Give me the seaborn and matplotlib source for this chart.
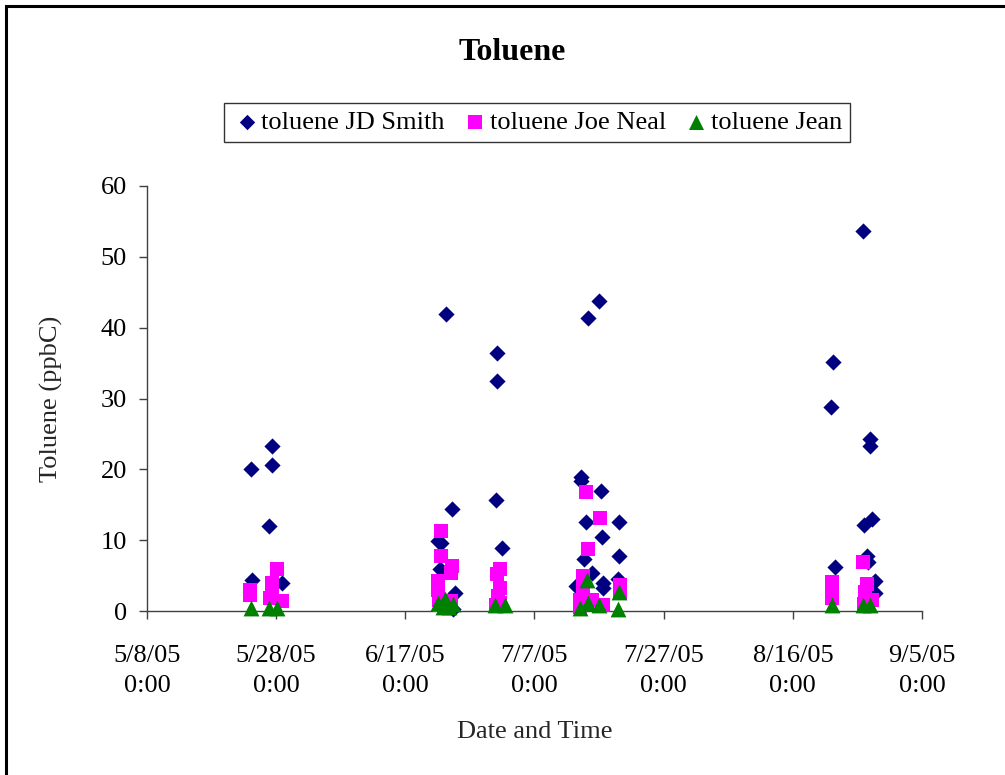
import matplotlib
matplotlib.use("Agg")
import matplotlib.pyplot as plt
import matplotlib.patches as mpatches
import pandas as pd
import seaborn as sns

# ---- measurement data -------------------------------------------------------
smith_times = [
    "2005-05-24 04:00", "2005-05-27 07:00", "2005-05-27 07:00", "2005-05-26 22:00",
    "2005-05-24 05:00", "2005-05-28 22:00",
    "2005-06-23 07:00", "2005-06-24 07:00", "2005-06-22 00:00", "2005-06-22 14:00",
    "2005-06-22 10:00", "2005-06-24 17:00", "2005-06-24 10:00",
    "2005-07-01 05:00", "2005-07-01 05:00", "2005-07-01 00:00", "2005-07-02 00:00",
    "2005-07-17 00:00", "2005-07-15 05:00", "2005-07-14 05:00", "2005-07-14 05:00",
    "2005-07-17 07:00", "2005-07-14 22:00", "2005-07-20 02:00", "2005-07-17 12:00",
    "2005-07-20 02:00", "2005-07-14 17:00", "2005-07-15 22:00", "2005-07-13 12:00",
    "2005-07-17 16:00", "2005-07-17 16:00", "2005-07-20 00:00",
    "2005-08-26 22:00", "2005-08-22 05:00", "2005-08-21 22:00", "2005-08-28 00:00",
    "2005-08-28 00:00", "2005-08-28 05:00", "2005-08-27 00:00", "2005-08-27 12:00",
    "2005-08-27 14:00", "2005-08-22 14:00", "2005-08-28 19:00", "2005-08-28 17:00",
]
smith_ppbc = [
    20.1, 23.3, 20.6, 12.0, 4.4, 3.9,
    41.9, 14.4, 9.9, 9.6, 6.0, 2.6, 0.3,
    36.4, 32.5, 15.7, 8.9,
    43.8, 41.3, 18.9, 18.3, 17.0, 12.5, 12.6, 10.4, 7.8, 7.3, 5.3, 3.6, 3.9, 3.2, 4.5,
    53.7, 35.2, 28.8, 24.3, 23.3, 13.0, 12.2, 7.8, 6.9, 6.2, 4.3, 2.6,
]

neal_times = [
    "2005-05-24 00:00", "2005-05-24 00:00", "2005-05-28 02:00", "2005-05-27 07:00",
    "2005-05-27 00:00", "2005-05-28 22:00", "2005-05-27 07:00",
    "2005-06-22 14:00", "2005-06-22 14:00", "2005-06-24 05:00", "2005-06-24 02:00",
    "2005-06-22 02:00", "2005-06-22 02:00", "2005-06-22 05:00", "2005-06-24 00:00",
    "2005-06-22 10:00",
    "2005-07-01 17:00", "2005-07-01 04:00", "2005-07-01 17:00", "2005-07-01 10:00",
    "2005-07-01 17:00", "2005-07-01 00:00",
    "2005-07-14 22:00", "2005-07-17 02:00", "2005-07-15 05:00", "2005-07-14 13:00",
    "2005-07-14 13:00", "2005-07-20 05:00", "2005-07-20 05:00", "2005-07-14 01:00",
    "2005-07-15 22:00", "2005-07-17 14:00", "2005-07-14 01:00",
    "2005-08-26 22:00", "2005-08-22 02:00", "2005-08-22 00:00", "2005-08-22 00:00",
    "2005-08-27 10:00", "2005-08-27 05:00", "2005-08-28 05:00", "2005-08-27 00:00",
]
neal_ppbc = [
    3.0, 2.2, 6.0, 3.9, 1.8, 1.4, 2.8,
    11.3, 7.7, 6.3, 5.3, 4.3, 3.0, 1.5, 1.4, 0.8,
    5.9, 5.2, 3.2, 2.1, 1.1, 0.8,
    16.8, 13.2, 8.7, 5.0, 3.5, 3.7, 2.5, 1.5, 1.6, 0.8, 0.6,
    6.9, 4.1, 2.4, 1.8, 3.8, 2.7, 1.5, 1.0,
]

jean_times = [
    "2005-05-24 01:00", "2005-05-26 22:00", "2005-05-28 02:00",
    "2005-06-22 02:00", "2005-06-23 02:00", "2005-06-24 10:00", "2005-06-22 20:00",
    "2005-06-23 20:00",
    "2005-06-30 22:00", "2005-07-02 10:00",
    "2005-07-15 02:00", "2005-07-20 02:00", "2005-07-14 01:00", "2005-07-15 07:00",
    "2005-07-17 00:00", "2005-07-20 00:00",
    "2005-08-22 00:00", "2005-08-26 22:00", "2005-08-28 00:00",
]
jean_ppbc = [
    0.4, 0.4, 0.4,
    1.2, 1.7, 1.0, 0.6, 0.5,
    0.8, 0.8,
    4.4, 2.7, 0.4, 1.1, 0.8, 0.3,
    0.8, 0.8, 0.8,
]

series_names = ["toluene JD Smith", "toluene Joe Neal", "toluene Jean"]
tick_dates = ["2005-05-08", "2005-05-28", "2005-06-17", "2005-07-07",
              "2005-07-27", "2005-08-16", "2005-09-05"]
tick_labels = ["5/8/05\n0:00", "5/28/05\n0:00", "6/17/05\n0:00", "7/7/05\n0:00",
               "7/27/05\n0:00", "8/16/05\n0:00", "9/5/05\n0:00"]
y_ticks = [0, 10, 20, 30, 40, 50, 60]

# ---- styling ----------------------------------------------------------------
sns.set_theme(style="white")
plt.rcParams["font.family"] = ["Liberation Serif", "DejaVu Serif"]
plt.rcParams["text.color"] = "black"
FS = 19
AX_COLOR = "#404040"

fig = plt.figure(figsize=(10.05, 7.75), dpi=100)
ax = fig.add_axes([147 / 1005, 1 - 611 / 775, (922 - 147) / 1005, (611 - 186) / 775])

frames = [
    pd.DataFrame({"time": pd.to_datetime(smith_times), "ppbC": smith_ppbc}),
    pd.DataFrame({"time": pd.to_datetime(neal_times), "ppbC": neal_ppbc}),
    pd.DataFrame({"time": pd.to_datetime(jean_times), "ppbC": jean_ppbc}),
]
markers = ["D", "s", "^"]
colors = ["#000080", "#FF00FF", "#008000"]
sizes = [68, 115, 130]

for df, name, m, c, s in zip(frames, series_names, markers, colors, sizes):
    sns.scatterplot(data=df, x="time", y="ppbC", marker=m, color=c, s=s,
                    linewidth=0, ax=ax, label=name, clip_on=False, zorder=3)

ax.set_xlim(pd.Timestamp(tick_dates[0]), pd.Timestamp(tick_dates[-1]))
ax.set_ylim(0, 60)
ax.set_xticks(pd.to_datetime(tick_dates))
ax.set_xticklabels(tick_labels, fontsize=FS, linespacing=1.45)
ax.set_yticks(y_ticks)
ax.set_yticklabels([str(v) for v in y_ticks], fontsize=FS)

for side in ["top", "right"]:
    ax.spines[side].set_visible(False)
for side in ["left", "bottom"]:
    ax.spines[side].set_color(AX_COLOR)
    ax.spines[side].set_linewidth(1.0)
ax.tick_params(axis="both", direction="out", length=5.5, width=1.0, color=AX_COLOR,
               labelcolor="black")
ax.tick_params(axis="x", pad=19, bottom=True)
ax.tick_params(axis="y", pad=9, left=True)

ax.set_xlabel("Date and Time", fontsize=FS)
ax.xaxis.set_label_coords(0.5, -(732 - 611) / 425, transform=ax.transAxes)
ax.xaxis.label.set_va("center")
ax.set_ylabel("Toluene (ppbC)", fontsize=FS)
ax.yaxis.set_label_coords(-(147 - 51) / 775, 0.5)
ax.yaxis.label.set_va("center")

ax.get_legend().remove()
handles, labels = ax.get_legend_handles_labels()
leg = fig.legend(handles, labels, loc="center", bbox_to_anchor=(537 / 1005, 1 - 122.5 / 775),
                 ncol=3, fontsize=FS, frameon=True, fancybox=False, markerscale=0.95,
                 handletextpad=0.0, columnspacing=0.6, borderpad=0.3, handlelength=1.1,
                 borderaxespad=0)
leg.get_frame().set_edgecolor("black")
leg.get_frame().set_linewidth(1.0)

fig.text(512 / 1005, 1 - 52 / 775, "Toluene", fontsize=23, fontweight="bold",
         ha="center", va="center")

# outer chart border
fig.patches.append(mpatches.Rectangle((6 / 1005, -0.1), 1.2, 1.1 - 6 / 775,
                                      transform=fig.transFigure, fill=False,
                                      edgecolor="black", linewidth=2.2))

fig.savefig("out.png", dpi=100)
